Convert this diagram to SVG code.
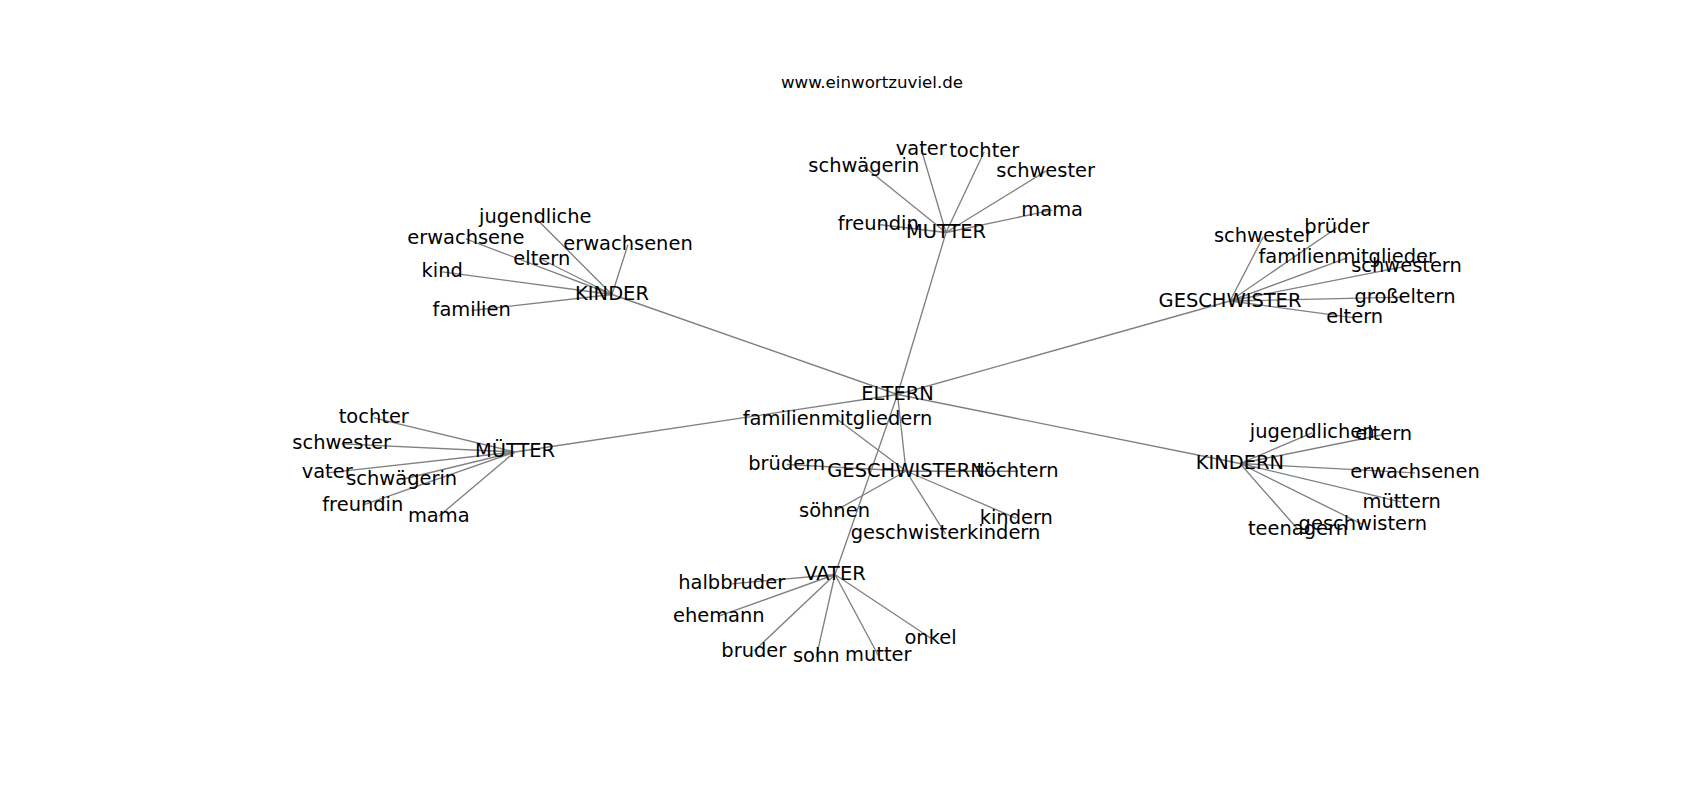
<svg xmlns="http://www.w3.org/2000/svg" width="1700" height="800" viewBox="0 0 1700 800">
<style>
.e{stroke:#808080;stroke-width:1.35;fill:none}
text{font-family:"DejaVu Sans","Liberation Sans",sans-serif;font-size:19.44px;fill:#000;text-anchor:middle}
.t{font-size:16.67px}
</style>
<rect width="1700" height="800" fill="#fff"/>
<text class="t" x="872" y="88.3">www.einwortzuviel.de</text>
<g id="connectors">
<path class="e" d="M897.5 394.5L946 232.5M897.5 394.5L612 294.5M897.5 394.5L1230 301M897.5 394.5L515 452M897.5 394.5L1240 463.5M897.5 394.5L906 471M897.5 394.5L835 574.5"/>
<path class="e" d="M612 294.5L535.3 217.8M612 294.5L465.8 238.8M612 294.5L628 244.5M612 294.5L541.8 259.5M612 294.5L442.2 271.8M612 294.5L471.7 310.5"/>
<path class="e" d="M946 232.5L921.3 149.5M946 232.5L984.2 151.8M946 232.5L863.8 166.2M946 232.5L1045.7 171.2M946 232.5L1052.2 210.2M946 232.5L878.3 224.5"/>
<path class="e" d="M1230 301L1263.3 236.8M1230 301L1336.8 227.8M1230 301L1347.2 257.8M1230 301L1406.5 266.2M1230 301L1405 297.2M1230 301L1354.7 317.8"/>
<path class="e" d="M515 452L373.8 417.8M515 452L341.7 443.8M515 452L327.2 472.8M515 452L401.7 479.5M515 452L362.8 505.2M515 452L438.8 516.2"/>
<path class="e" d="M906 471L837.5 419.5M906 471L786.7 464.5M906 471L1017.5 471.2M906 471L834.5 511.2M906 471L1016.3 518.3M906 471L945.5 533.8"/>
<path class="e" d="M1240 463.5L1312.2 432.8M1240 463.5L1383.7 434.5M1240 463.5L1415 472.8M1240 463.5L1401.7 502.2M1240 463.5L1362.8 524.5M1240 463.5L1298 529.5"/>
<path class="e" d="M835 574.5L731.7 583.8M835 574.5L718.8 616.2M835 574.5L753.8 651.2M835 574.5L816.3 656.8M835 574.5L878.3 655.5M835 574.5L930.5 638"/>
</g>
<g id="n-ELTERN"><text x="897.5" y="400">ELTERN</text></g>
<g id="n-MUTTER"><text x="946" y="238.3">MUTTER</text></g>
<g id="n-KINDER"><text x="612" y="300">KINDER</text></g>
<g id="n-GESCHWISTER"><text x="1230" y="306.7">GESCHWISTER</text></g>
<g id="n-MUETTER"><text x="515" y="457.3">MÜTTER</text></g>
<g id="n-KINDERN"><text x="1240" y="469">KINDERN</text></g>
<g id="n-GESCHWISTERN"><text x="906" y="476.7">GESCHWISTERN</text></g>
<g id="n-VATER"><text x="835" y="580">VATER</text></g>

<g id="n-k-jugendliche"><text x="535.3" y="223.3">jugendliche</text></g>
<g id="n-k-erwachsene"><text x="465.8" y="244.3">erwachsene</text></g>
<g id="n-k-erwachsenen"><text x="628" y="250">erwachsenen</text></g>
<g id="n-k-eltern"><text x="541.8" y="265">eltern</text></g>
<g id="n-k-kind"><text x="442.2" y="277.3">kind</text></g>
<g id="n-k-familien"><text x="471.7" y="316">familien</text></g>

<g id="n-m-vater"><text x="921.3" y="155">vater</text></g>
<g id="n-m-tochter"><text x="984.2" y="157.3">tochter</text></g>
<g id="n-m-schwaegerin"><text x="863.8" y="171.7">schwägerin</text></g>
<g id="n-m-schwester"><text x="1045.7" y="176.7">schwester</text></g>
<g id="n-m-mama"><text x="1052.2" y="215.7">mama</text></g>
<g id="n-m-freundin"><text x="878.3" y="230">freundin</text></g>

<g id="n-g-schwester"><text x="1263.3" y="242.3">schwester</text></g>
<g id="n-g-brueder"><text x="1336.8" y="233.3">brüder</text></g>
<g id="n-g-familienmitglieder"><text x="1347.2" y="263.3">familienmitglieder</text></g>
<g id="n-g-schwestern"><text x="1406.5" y="271.7">schwestern</text></g>
<g id="n-g-grosseltern"><text x="1405" y="302.7">großeltern</text></g>
<g id="n-g-eltern"><text x="1354.7" y="323.3">eltern</text></g>

<g id="n-mu-tochter"><text x="373.8" y="423.3">tochter</text></g>
<g id="n-mu-schwester"><text x="341.7" y="449.3">schwester</text></g>
<g id="n-mu-vater"><text x="327.2" y="478.3">vater</text></g>
<g id="n-mu-schwaegerin"><text x="401.7" y="485">schwägerin</text></g>
<g id="n-mu-freundin"><text x="362.8" y="510.7">freundin</text></g>
<g id="n-mu-mama"><text x="438.8" y="521.7">mama</text></g>

<g id="n-gn-familienmitgliedern"><text x="837.5" y="425">familienmitgliedern</text></g>
<g id="n-gn-bruedern"><text x="786.7" y="470">brüdern</text></g>
<g id="n-gn-toechtern"><text x="1017.5" y="476.7">töchtern</text></g>
<g id="n-gn-soehnen"><text x="834.5" y="516.7">söhnen</text></g>
<g id="n-gn-kindern"><text x="1016.3" y="523.8">kindern</text></g>
<g id="n-gn-geschwisterkindern"><text x="945.5" y="539.3">geschwisterkindern</text></g>

<g id="n-kn-jugendlichen"><text x="1312.2" y="438.3">jugendlichen</text></g>
<g id="n-kn-eltern"><text x="1383.7" y="440">eltern</text></g>
<g id="n-kn-erwachsenen"><text x="1415" y="478.3">erwachsenen</text></g>
<g id="n-kn-muettern"><text x="1401.7" y="507.7">müttern</text></g>
<g id="n-kn-geschwistern"><text x="1362.8" y="530">geschwistern</text></g>
<g id="n-kn-teenagern"><text x="1298" y="535">teenagern</text></g>

<g id="n-v-halbbruder"><text x="731.7" y="589.3">halbbruder</text></g>
<g id="n-v-ehemann"><text x="718.8" y="621.7">ehemann</text></g>
<g id="n-v-bruder"><text x="753.8" y="656.7">bruder</text></g>
<g id="n-v-sohn"><text x="816.3" y="662.3">sohn</text></g>
<g id="n-v-mutter"><text x="878.3" y="661">mutter</text></g>
<g id="n-v-onkel"><text x="930.5" y="643.5">onkel</text></g>
</svg>
